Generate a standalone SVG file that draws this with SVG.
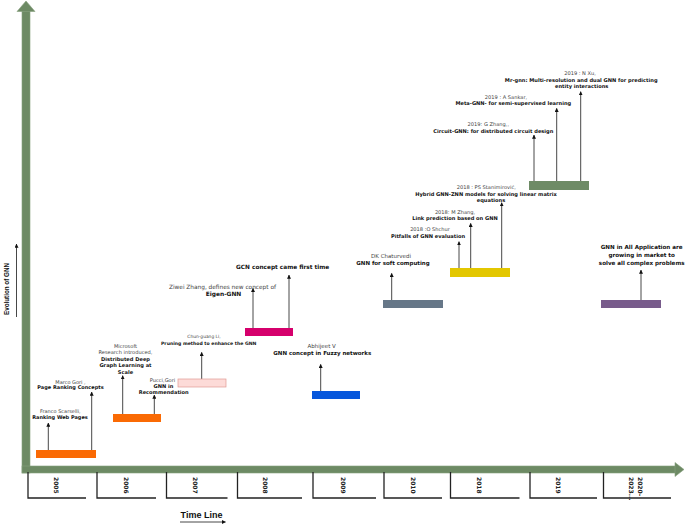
<svg xmlns="http://www.w3.org/2000/svg" width="685" height="526" viewBox="0 0 685 526">
<style>
.r{font-family:"DejaVu Sans",Verdana,sans-serif;fill:#444;text-anchor:middle}
.b{font-family:"DejaVu Sans",Verdana,sans-serif;font-weight:bold;fill:#111;text-anchor:middle}
.yr{font-family:"DejaVu Sans",Verdana,sans-serif;font-weight:bold;font-size:6px;fill:#222}
.lbl{font-family:"Liberation Sans",Arial,sans-serif;font-weight:bold;fill:#111}
.box{fill:none;stroke:#222;stroke-width:1.3}
.ar{stroke:#333;stroke-width:0.9;fill:none;marker-end:url(#ah)}
.axis{fill:#6d8a64;stroke:#86a07d;stroke-width:0.6}
</style>
<defs>
<marker id="ah" viewBox="0 0 6 6" refX="5.5" refY="3" markerWidth="4" markerHeight="4" markerUnits="userSpaceOnUse" orient="auto">
<path d="M0,0 L6,3 L0,6 z" fill="#111"/>
</marker>
</defs>
<rect width="685" height="526" fill="#fff"/>
<g id="axes">
<rect class="axis" x="22" y="11" width="8" height="462"/>
<polygon class="axis" points="17,11.5 26,1 35,11.5"/>
<rect class="axis" x="22" y="466" width="654" height="7"/>
<polygon class="axis" points="675,462.5 684,469.5 675,476.5"/>
<text class="lbl" font-size="6.3" text-anchor="middle" transform="translate(8.5,289) rotate(-90)">Evolution of GNN</text>
<line class="ar" x1="16.5" y1="317" x2="16.5" y2="244"/>
<text class="lbl" font-size="9" text-anchor="middle" x="201.5" y="518">Time Line</text>
<line class="ar" x1="180" y1="522" x2="225.5" y2="522"/>
</g>
<g id="years">
<path class="box" d="M28 472 V498 H86"/>
<path class="box" d="M97 472 V498 H156"/>
<path class="box" d="M166.5 472 V498 H227.5"/>
<path class="box" d="M237.5 472 V498 H302"/>
<path class="box" d="M313 472 V498 H376"/>
<path class="box" d="M384 472 V498 H442"/>
<path class="box" d="M450.5 472 V498 H519.5"/>
<path class="box" d="M530 472 V498 H597"/>
<path class="box" d="M603.5 472 V498 H671"/>
<text class="yr" transform="translate(56.7,477) rotate(90)" y="2.2">2005</text>
<text class="yr" transform="translate(126,477) rotate(90)" y="2.2">2006</text>
<text class="yr" transform="translate(195,477) rotate(90)" y="2.2">2007</text>
<text class="yr" transform="translate(265.6,477) rotate(90)" y="2.2">2008</text>
<text class="yr" transform="translate(343.4,477) rotate(90)" y="2.2">2009</text>
<text class="yr" transform="translate(413.3,477) rotate(90)" y="2.2">2010</text>
<text class="yr" transform="translate(478.8,477) rotate(90)" y="2.2">2018</text>
<text class="yr" transform="translate(558.7,477) rotate(90)" y="2.2">2019</text>
<text class="yr" transform="translate(640.5,477) rotate(90)" y="2.2">2020-</text>
<text class="yr" transform="translate(631.5,477) rotate(90)" y="2.2">2023...</text>
</g>
<g id="connectors">
<line class="ar" x1="48.3" y1="450" x2="48.3" y2="423"/>
<line class="ar" x1="91.7" y1="450" x2="91.7" y2="392"/>
<line class="ar" x1="122.7" y1="414" x2="122.7" y2="375.7"/>
<line class="ar" x1="154.3" y1="414" x2="154.3" y2="395"/>
<line class="ar" x1="201.7" y1="379" x2="201.7" y2="352.3"/>
<line class="ar" x1="253" y1="328" x2="253" y2="288.3"/>
<line class="ar" x1="289" y1="328" x2="289" y2="275"/>
<line class="ar" x1="320.7" y1="391" x2="320.7" y2="364.3"/>
<line class="ar" x1="391.7" y1="300" x2="391.7" y2="273.3"/>
<line class="ar" x1="459" y1="268" x2="459" y2="241.7"/>
<line class="ar" x1="470.7" y1="268" x2="470.7" y2="223.3"/>
<line class="ar" x1="501.7" y1="268" x2="501.7" y2="202.7"/>
<line class="ar" x1="534" y1="181" x2="534" y2="135"/>
<line class="ar" x1="556.7" y1="181" x2="556.7" y2="108.3"/>
<line class="ar" x1="580.7" y1="181" x2="580.7" y2="91.7"/>
<line class="ar" x1="641" y1="300" x2="641" y2="270"/>
</g>
<g id="n2005">
<rect x="36" y="450" width="60" height="8" fill="#fa6a04"/>
<text class="r" font-size="5" x="60.3" y="412.5">Franco Scarselli,</text>
<text class="b" font-size="5" x="60" y="418.5">Ranking Web Pages</text>
<text class="r" font-size="5" x="70.5" y="383.5">Marco Gori ,</text>
<text class="b" font-size="5" x="70.5" y="389">Page Ranking Concepts</text>
</g>
<g id="n2006">
<rect x="113" y="414" width="48" height="8" fill="#fa6a04"/>
<text class="r" font-size="5.1" x="125.5" y="347.5">Microsoft</text>
<text class="r" font-size="5.1" x="125.5" y="354">Research introduced,</text>
<text class="b" font-size="5.1" x="125.5" y="360.8">Distributed Deep</text>
<text class="b" font-size="5.1" x="125.5" y="367.3">Graph Learning at</text>
<text class="b" font-size="5.1" x="125.5" y="373.8">Scale</text>
<text class="r" font-size="5.1" x="162.5" y="382.3">Pucci,Gori</text>
<text class="b" font-size="5.1" x="163.5" y="388.3">GNN in</text>
<text class="b" font-size="5.1" x="163.7" y="394.2">Recommendation</text>
</g>
<g id="n2007">
<rect x="178" y="379" width="48" height="8" fill="#fddbd8" stroke="#e09a94" stroke-width="0.7"/>
<text class="r" font-size="4.4" x="204" y="337.5">Chun-guang Li,</text>
<text class="b" font-size="4.6" x="208.7" y="345">Pruning method to enhance the GNN</text>
</g>
<g id="n2008">
<rect x="245" y="328" width="48" height="8" fill="#d5006c"/>
<text class="r" font-size="5.8" x="222.5" y="288.5">Ziwei Zhang, defines new concept of</text>
<text class="b" font-size="5.9" x="223.5" y="296">Eigen-GNN</text>
<text class="b" font-size="5.8" x="282.7" y="268.7">GCN concept came first time</text>
</g>
<g id="n2009">
<rect x="312" y="391" width="48" height="8" fill="#0757dc"/>
<text class="r" font-size="5.5" x="321.7" y="348">Abhijeet V</text>
<text class="b" font-size="5.5" x="322.3" y="355.3">GNN concept in Fuzzy networks</text>
</g>
<g id="n2010">
<rect x="383" y="300" width="60" height="8" fill="#667788"/>
<text class="r" font-size="5.5" x="391" y="258.3">DK Chaturvedi</text>
<text class="b" font-size="5.5" x="393" y="264.5">GNN for soft computing</text>
</g>
<g id="n2018">
<rect x="450" y="268" width="60" height="9" fill="#e3c700"/>
<text class="r" font-size="5.1" x="430" y="231">2018 :O Shchur</text>
<text class="b" font-size="5.1" x="428" y="238">Pitfalls of GNN evaluation</text>
<text class="r" font-size="5.1" x="455" y="213.5">2018: M Zhang,</text>
<text class="b" font-size="5.1" x="455" y="219.5">Link prediction based on GNN</text>
<text class="r" font-size="5.1" x="486.3" y="188.5">2018 : PS Stanimirović,</text>
<text class="b" font-size="5.1" x="486" y="196.3">Hybrid GNN-ZNN models for solving linear matrix</text>
<text class="b" font-size="5.1" x="491" y="202">equations</text>
</g>
<g id="n2019">
<rect x="529" y="181" width="60" height="9" fill="#6e8b66"/>
<text class="r" font-size="5.1" x="488.3" y="126">2019: G Zhang,,</text>
<text class="b" font-size="5.1" x="493.3" y="132.5">Circuit-GNN: for distributed circuit design</text>
<text class="r" font-size="5.1" x="506" y="98.5">2019 : A Sankar,</text>
<text class="b" font-size="5.1" x="513.3" y="105.3">Meta-GNN- for semi-supervised learning</text>
<text class="r" font-size="5.1" x="580" y="75">2019 : N Xu,</text>
<text class="b" font-size="5.1" x="581.2" y="81.5">Mr-gnn: Multi-resolution and dual GNN for predicting</text>
<text class="b" font-size="5.1" x="581.7" y="87.5">entity interactions</text>
</g>
<g id="n2020">
<rect x="601" y="300" width="60" height="8" fill="#785b8b"/>
<text class="b" font-size="5.6" x="641.7" y="248.7">GNN in All Application are</text>
<text class="b" font-size="5.6" x="641.7" y="257">growing in market to</text>
<text class="b" font-size="5.6" x="641.7" y="265.3">solve all complex problems</text>
</g>
</svg>
